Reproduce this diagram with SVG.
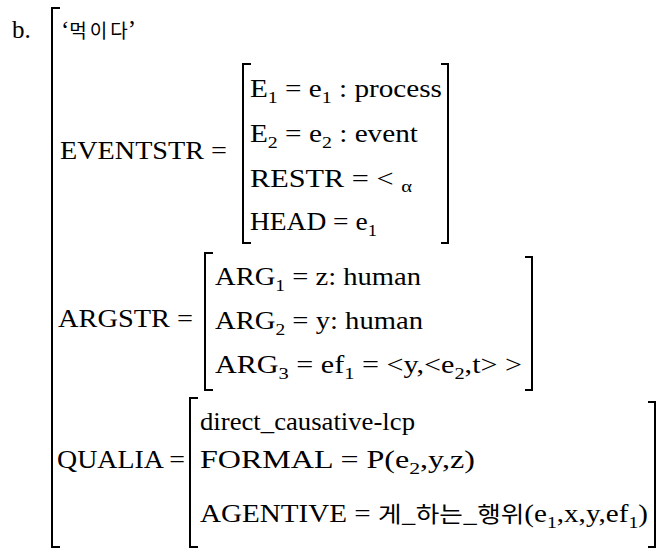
<svg xmlns="http://www.w3.org/2000/svg" width="662" height="551" viewBox="0 0 662 551">
<style>
.t{font-family:"Liberation Serif","Noto Sans CJK KR",serif;font-size:25px;fill:#000}
.k{font-family:"Noto Sans CJK KR",sans-serif;font-size:22px}
.s{font-size:17px}
.br{fill:none;stroke:#000;stroke-width:2}
</style>
<rect width="662" height="551" fill="#fff"/>
<g id="label"><text class="t" x="12" y="38">b.</text></g>
<g id="outer">
<path class="br" d="M60,8 H52 V547 H60"/>
<text class="t" x="61" y="38"><tspan>‘</tspan><tspan class="k" style="font-size:19px;letter-spacing:3px">먹이</tspan><tspan class="k" style="font-size:19px">다</tspan><tspan>’</tspan></text>
</g>
<g id="eventstr">
<text class="t" x="60" y="159" textLength="167" lengthAdjust="spacingAndGlyphs">EVENTSTR =</text>
<path class="br" d="M251,64 H243 V243 H251"/>
<path class="br" d="M441,64 H448 V243 H441"/>
<text class="t" x="250" y="97" textLength="192" lengthAdjust="spacingAndGlyphs">E<tspan class="s" dy="6">1</tspan><tspan dy="-6"> = e</tspan><tspan class="s" dy="6">1</tspan><tspan dy="-6"> : process</tspan></text>
<text class="t" x="250" y="142" textLength="168" lengthAdjust="spacingAndGlyphs">E<tspan class="s" dy="6">2</tspan><tspan dy="-6"> = e</tspan><tspan class="s" dy="6">2</tspan><tspan dy="-6"> : event</tspan></text>
<text class="t" x="250" y="187" textLength="162" lengthAdjust="spacingAndGlyphs">RESTR = &lt; <tspan class="s" dy="5">α</tspan></text>
<text class="t" x="250" y="230" textLength="127" lengthAdjust="spacingAndGlyphs">HEAD = e<tspan class="s" dy="6">1</tspan></text>
</g>
<g id="argstr">
<text class="t" x="58" y="327" textLength="135" lengthAdjust="spacingAndGlyphs">ARGSTR =</text>
<path class="br" d="M213,253 H205 V390 H213"/>
<path class="br" d="M525,257 H532 V390 H525"/>
<text class="t" x="215" y="285" textLength="206" lengthAdjust="spacingAndGlyphs">ARG<tspan class="s" dy="6">1</tspan><tspan dy="-6"> = z:  human</tspan></text>
<text class="t" x="215" y="329" textLength="208" lengthAdjust="spacingAndGlyphs">ARG<tspan class="s" dy="6">2</tspan><tspan dy="-6"> = y:  human</tspan></text>
<text class="t" x="215" y="373" textLength="307" lengthAdjust="spacingAndGlyphs">ARG<tspan class="s" dy="6">3</tspan><tspan dy="-6"> = ef</tspan><tspan class="s" dy="6">1</tspan><tspan dy="-6"> = &lt;y,&lt;e</tspan><tspan class="s" dy="6">2</tspan><tspan dy="-6">,t&gt; &gt;</tspan></text>
</g>
<g id="qualia">
<text class="t" x="57" y="468" textLength="128" lengthAdjust="spacingAndGlyphs">QUALIA =</text>
<path class="br" d="M198,398 H190 V547 H198"/>
<path class="br" d="M648,402 H655 V547 H648"/>
<text class="t" x="200" y="430" textLength="215" lengthAdjust="spacingAndGlyphs">direct_causative-lcp</text>
<text class="t" x="200" y="468" textLength="275" lengthAdjust="spacingAndGlyphs">FORMAL = P(e<tspan class="s" dy="6">2</tspan><tspan dy="-6">,y,z)</tspan></text>
<text class="t" x="200" y="522" textLength="448" lengthAdjust="spacingAndGlyphs">AGENTIVE = <tspan class="k">게_하는_행위</tspan>(e<tspan class="s" dy="6">1</tspan><tspan dy="-6">,x,y,ef</tspan><tspan class="s" dy="6">1</tspan><tspan dy="-6">)</tspan></text>
</g>
</svg>
